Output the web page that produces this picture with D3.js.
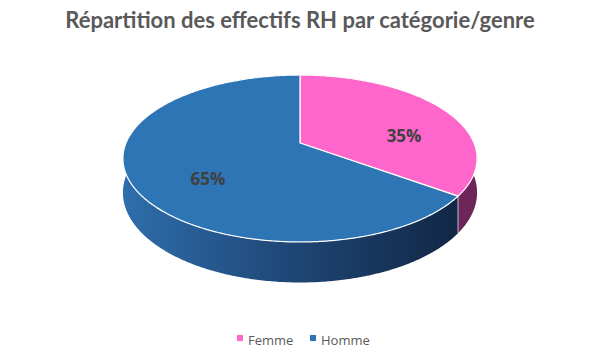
<!DOCTYPE html>
<meta charset="utf-8">
<style>
body { margin: 0; background: #fff; }
.title { font-family: Lato, "Open Sans", sans-serif; font-weight: bold; fill: #595959; }
.label { font-family: "Open Sans", sans-serif; font-weight: bold; font-size: 17px; fill: #404040; }
.legend text { font-family: "Open Sans", sans-serif; font-size: 13px; fill: #595959; }
</style>
<svg width="599" height="362"></svg>
<script src="https://cdn.jsdelivr.net/npm/d3@7/dist/d3.min.js"></script>
<script>
var title = "Répartition des effectifs RH par catégorie/genre";
var categories = ["Femme", "Homme"];
var values = [35, 65];
var topColors = ["#FF66CC", "#2E75B6"];

var svg = d3.select("svg");

// 3D-ish projection of the pie disc (Excel style perspective)
var cx = 300, cy = 143, sx = 174, sy = 80.6, persp = 0.1856, depth = 33;
function proj(r, a, h) {
  var X = r * Math.sin(a), Z = r * Math.cos(a), k = 1 + persp * Z;
  return [cx + sx * X / k, cy - sy * Z / k + h * depth / k];
}

var pie = d3.pie().sort(null).value(function(d) { return d; });
var arcs = pie(values);

function arcPoints(a0, a1, h) {
  var n = Math.max(2, Math.ceil(Math.abs(a1 - a0) / 0.01));
  return d3.range(n + 1).map(function(i) { return proj(1, a0 + (a1 - a0) * i / n, h); });
}

var line = d3.line();

var defs = svg.append("defs");
var g1 = defs.append("linearGradient").attr("id", "side1")
    .attr("gradientUnits", "userSpaceOnUse")
    .attr("x1", 122).attr("x2", 478).attr("y1", 0).attr("y2", 0);
g1.append("stop").attr("offset", 0).attr("stop-color", "#2F6EAC");
g1.append("stop").attr("offset", 0.45).attr("stop-color", "#1F4878");
g1.append("stop").attr("offset", 1).attr("stop-color", "#10233F");
var g0 = defs.append("linearGradient").attr("id", "side0");
g0.append("stop").attr("offset", 0).attr("stop-color", "#5E1F4D");
g0.append("stop").attr("offset", 1).attr("stop-color", "#6E2659");
var sideFills = ["url(#side0)", "url(#side1)"];

// sides
svg.append("g").selectAll("path")
    .data(arcs)
  .enter().append("path")
    .attr("fill", function(d, i) { return sideFills[i]; })
    .attr("d", function(d) {
      var pts = arcPoints(d.startAngle, d.endAngle, 0)
        .concat(arcPoints(d.endAngle, d.startAngle, 1));
      return line(pts) + "Z";
    });

// visible vertical edges between slices
svg.append("g").selectAll("line")
    .data(arcs.filter(function(d) { return Math.cos(d.startAngle) < -persp; }))
  .enter().append("line")
    .attr("x1", function(d) { return proj(1, d.startAngle, 0)[0]; })
    .attr("y1", function(d) { return proj(1, d.startAngle, 0)[1]; })
    .attr("x2", function(d) { return proj(1, d.startAngle, 1)[0]; })
    .attr("y2", function(d) { return proj(1, d.startAngle, 1)[1]; })
    .attr("stroke", "#dfe6ee").attr("stroke-width", 0.8);

// tops
svg.append("g").selectAll("path")
    .data(arcs)
  .enter().append("path")
    .attr("fill", function(d, i) { return topColors[i]; })
    .attr("stroke", "#fff").attr("stroke-width", 1.2)
    .attr("stroke-linejoin", "round")
    .attr("d", function(d) {
      var pts = [proj(0, 0, 0)].concat(arcPoints(d.startAngle, d.endAngle, 0));
      return line(pts) + "Z";
    });

// data labels
svg.append("g").selectAll("text")
    .data(arcs)
  .enter().append("text")
    .attr("class", "label")
    .attr("text-anchor", "middle")
    .attr("x", function(d) { return 306 + 110 * Math.sin((d.startAngle + d.endAngle) / 2); })
    .attr("y", function(d) { return 163.5 - 47.4 * Math.cos((d.startAngle + d.endAngle) / 2); })
    .text(function(d) { return Math.round(d.value / d3.sum(values) * 100) + "%"; });

// title
svg.append("text")
    .attr("class", "title")
    .attr("x", 300).attr("y", 28)
    .attr("text-anchor", "middle")
    .style("font-size", "22px")
    .text(title);

// legend
var legendX = d3.scaleOrdinal().domain(categories).range([237, 310]);
var legend = svg.append("g").attr("class", "legend")
  .selectAll("g")
    .data(categories)
  .enter().append("g")
    .attr("transform", function(d) { return "translate(" + legendX(d) + ",335)"; });
legend.append("rect")
    .attr("width", 6).attr("height", 6)
    .attr("fill", function(d, i) { return topColors[i]; });
legend.append("text")
    .attr("x", 11).attr("y", 9.5)
    .text(function(d) { return d; });
</script>
